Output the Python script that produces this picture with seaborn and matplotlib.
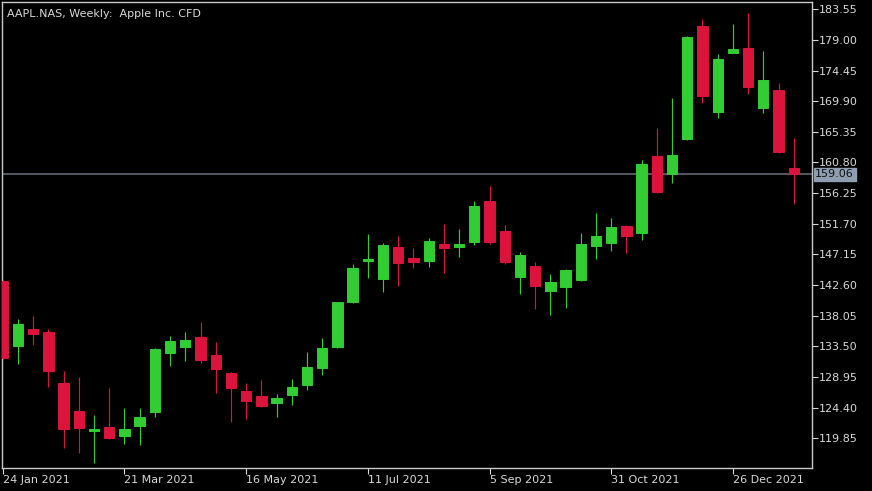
import numpy as np
import pandas as pd
import seaborn as sns
import matplotlib
matplotlib.use("Agg")
import matplotlib.pyplot as plt

# weekly candles, week start dates
weeks = pd.date_range("2021-01-24", periods=53, freq="7D")

opens = [143.21, 133.56, 136.08, 135.59, 128.02, 123.91, 120.98, 121.53, 120.24, 121.68,
         123.80, 132.47, 133.45, 134.85, 132.18, 129.59, 126.92, 126.18, 125.05, 126.24,
         127.77, 130.34, 133.45, 140.09, 146.22, 143.46, 148.26, 146.58, 146.18, 148.70,
         148.30, 149.00, 155.09, 150.68, 143.76, 145.44, 141.68, 142.27, 143.36, 148.45,
         148.89, 151.37, 150.29, 161.77, 159.14, 164.34, 181.11, 168.26, 177.02, 177.85,
         168.85, 171.52, 159.99]
highs = [143.30, 137.52, 137.97, 136.08, 129.84, 128.91, 123.36, 127.32, 124.35, 124.31,
         133.20, 135.09, 135.64, 137.08, 134.15, 129.70, 128.06, 128.51, 126.39, 128.61,
         132.71, 134.70, 140.10, 145.69, 150.14, 148.89, 149.93, 148.11, 149.59, 151.67,
         150.93, 155.09, 157.36, 151.52, 147.56, 146.03, 144.25, 144.99, 150.29, 153.26,
         152.52, 151.52, 161.17, 165.88, 170.34, 179.63, 182.11, 176.87, 181.37, 182.96,
         177.36, 172.61, 164.40]
lows = [131.60, 130.88, 133.71, 127.51, 118.46, 117.63, 116.14, 119.75, 119.01, 118.86,
        123.06, 130.63, 131.29, 131.08, 126.62, 122.27, 122.76, 124.46, 123.06, 124.80,
        127.02, 129.21, 133.30, 140.00, 143.61, 141.62, 142.51, 145.18, 145.29, 144.44,
        146.73, 148.55, 148.70, 145.73, 141.23, 139.10, 138.20, 139.24, 143.25, 146.47,
        147.71, 147.41, 149.30, 156.32, 157.80, 164.14, 169.68, 167.46, 177.00, 170.93,
        168.11, 162.17, 154.64]
closes = [131.73, 136.82, 135.29, 129.89, 121.28, 121.43, 121.23, 119.85, 121.23, 123.06,
          133.11, 134.26, 134.40, 131.48, 130.14, 127.32, 125.39, 124.65, 125.88, 127.47,
          130.44, 133.26, 140.05, 145.14, 146.43, 148.55, 145.93, 146.03, 149.15, 148.15,
          148.70, 154.39, 149.00, 146.03, 147.02, 142.51, 143.02, 144.84, 148.66, 149.85,
          151.27, 149.89, 160.58, 156.47, 161.87, 179.39, 170.72, 176.17, 177.70, 171.97,
          173.05, 162.32, 159.06]

price_ticks = [119.85, 124.40, 128.95, 133.50, 138.05, 142.60, 147.15, 151.70,
               156.25, 160.80, 165.35, 169.90, 174.45, 179.00, 183.55]
date_tick_idx = [0, 8, 16, 24, 32, 40, 48]
last_price = 159.06

df = pd.DataFrame({"week": weeks, "open": opens, "high": highs, "low": lows, "close": closes})
df["idx"] = np.arange(len(df))
df["up"] = df["close"] >= df["open"]

sns.set_theme(style="dark", rc={"axes.facecolor": "black", "figure.facecolor": "black"})
plt.rcParams["font.family"] = ["DejaVu Sans"]

green = "#32cd32"
red = "#dc143c"
fg = "#d8d8d8"

fig = plt.figure(figsize=(8.72, 4.91), dpi=100)
ax = fig.add_axes([2 / 872, 23 / 491, 810 / 872, 466 / 491])
ax.set_facecolor("black")

colors = np.where(df["up"], green, red)
ax.vlines(df["idx"], df["low"], df["high"], colors=colors, linewidth=0.85, zorder=2)
body_low = np.minimum(df["open"], df["close"])
body_h = np.abs(df["close"] - df["open"])
ax.bar(df["idx"], body_h, bottom=body_low, width=0.68, color=colors,
       edgecolor=colors, linewidth=0.7, zorder=3)

ax.axhline(last_price, color="#56606c", linewidth=1.3, zorder=1)

ax.set_xlim(-0.05, 53.2)
ax.set_ylim(115.44, 184.63)

for s in ax.spines.values():
    s.set_color("#c8c8c8")
    s.set_linewidth(1.0)
    s.set_visible(True)

ax.yaxis.tick_right()
ax.set_yticks(price_ticks)
ax.set_yticklabels([f"{v:.2f}" for v in price_ticks])
ax.set_xticks(date_tick_idx)
ax.set_xticklabels([f"{weeks[i].day} {weeks[i].strftime('%b %Y')}" for i in date_tick_idx],
                   ha="left")
ax.tick_params(axis="y", colors=fg, labelsize=8, length=4, width=0.8, direction="out",
               pad=1, right=True, left=False)
ax.tick_params(axis="x", colors=fg, labelsize=8, length=4, width=0.8, direction="out",
               pad=1, bottom=True)
for lbl in ax.get_xticklabels():
    lbl.set_x(lbl.get_position()[0])
ax.grid(False)

ax.text(0.006, 0.986, "AAPL.NAS, Weekly:  Apple Inc. CFD", transform=ax.transAxes,
        color=fg, fontsize=8, ha="left", va="top")

ax.text(1.004, last_price, f"{last_price:.2f}", transform=ax.get_yaxis_transform(),
        color="#101010", fontsize=8, ha="left", va="center", zorder=5,
        bbox=dict(boxstyle="square,pad=0.15", facecolor="#8e9eb0", edgecolor="#8e9eb0"),
        clip_on=False)

fig.savefig("out.png", dpi=100, facecolor="black")
